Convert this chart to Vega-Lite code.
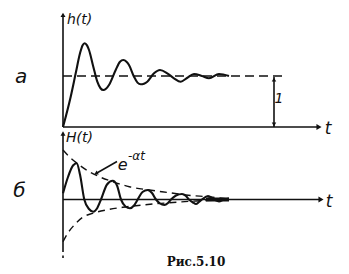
{
  "$schema": "https://vega.github.io/schema/vega-lite/v6.json",
  "padding": 0,
  "spacing": 0,
  "bounds": "flush",
  "background": "white",
  "config": {"view": {"stroke": null}},
  "resolve": {"scale": {"x": "independent", "y": "independent"}},
  "datasets": {
    "top_curve": [
      {"t": 0, "h": 0}, {"t": 0.77, "h": 0.594}, {"t": 1.27, "h": 1.053}, {"t": 1.7, "h": 1.445}, {"t": 1.95, "h": 1.6},
      {"t": 2.17, "h": 1.641}, {"t": 2.4, "h": 1.6}, {"t": 2.6, "h": 1.51}, {"t": 3.03, "h": 1.182}, {"t": 3.43, "h": 0.888},
      {"t": 3.75, "h": 0.76}, {"t": 4.03, "h": 0.725}, {"t": 4.3, "h": 0.75}, {"t": 4.6, "h": 0.824}, {"t": 5.27, "h": 1.118},
      {"t": 5.7, "h": 1.28}, {"t": 6.03, "h": 1.314}, {"t": 6.35, "h": 1.28}, {"t": 6.6, "h": 1.216}, {"t": 7.1, "h": 0.986},
      {"t": 7.45, "h": 0.87}, {"t": 7.77, "h": 0.837}, {"t": 8.1, "h": 0.85}, {"t": 8.43, "h": 0.888}, {"t": 9.1, "h": 1.053},
      {"t": 9.7, "h": 1.118}, {"t": 10.43, "h": 1.053}, {"t": 11.1, "h": 0.955}, {"t": 11.77, "h": 0.888}, {"t": 12.4, "h": 0.961},
      {"t": 13.1, "h": 1.039}, {"t": 13.9, "h": 1.0}, {"t": 14.6, "h": 0.955}, {"t": 15.6, "h": 1.039}, {"t": 16.6, "h": 1.0}
    ],
    "top_level": [{"t": 0, "h": 1}, {"t": 22.1, "h": 1}],
    "bot_curve": [
      {"t": 0, "h": 0.124}, {"t": 0.5, "h": 0.45}, {"t": 1.0, "h": 0.68}, {"t": 1.37, "h": 0.724}, {"t": 1.7, "h": 0.5},
      {"t": 2.13, "h": 0}, {"t": 2.6, "h": -0.19}, {"t": 3.03, "h": -0.244}, {"t": 3.4, "h": -0.18}, {"t": 3.8, "h": 0},
      {"t": 4.4, "h": 0.3}, {"t": 4.97, "h": 0.376}, {"t": 5.4, "h": 0.28}, {"t": 5.8, "h": 0}, {"t": 6.25, "h": -0.14},
      {"t": 6.7, "h": -0.176}, {"t": 7.1, "h": -0.12}, {"t": 7.47, "h": 0}, {"t": 7.95, "h": 0.15}, {"t": 8.47, "h": 0.19},
      {"t": 8.9, "h": 0.13}, {"t": 9.3, "h": 0}, {"t": 9.7, "h": -0.08}, {"t": 10.13, "h": -0.11}, {"t": 10.5, "h": -0.07},
      {"t": 10.8, "h": 0}, {"t": 11.3, "h": 0.08}, {"t": 11.9, "h": 0.11}, {"t": 12.3, "h": 0.07}, {"t": 12.6, "h": 0},
      {"t": 13.0, "h": -0.06}, {"t": 13.3, "h": -0.09}, {"t": 13.6, "h": -0.05}, {"t": 13.9, "h": 0}, {"t": 14.5, "h": 0.07},
      {"t": 15.1, "h": 0}, {"t": 15.6, "h": -0.04}, {"t": 16.1, "h": 0}, {"t": 16.6, "h": 0.02}
    ],
    "upper_env": [
      {"t": 0, "h": 0.99}, {"t": 0.63, "h": 0.856}, {"t": 1.63, "h": 0.69}, {"t": 2.63, "h": 0.556}, {"t": 3.63, "h": 0.456},
      {"t": 4.97, "h": 0.356}, {"t": 6.63, "h": 0.256}, {"t": 8.63, "h": 0.19}, {"t": 10.63, "h": 0.136}, {"t": 12.3, "h": 0.09},
      {"t": 14.8, "h": 0.05}, {"t": 16.6, "h": 0.01}
    ],
    "lower_env": [
      {"t": 0, "h": -0.844}, {"t": 0.47, "h": -0.676}, {"t": 1.13, "h": -0.51}, {"t": 1.97, "h": -0.356}, {"t": 2.97, "h": -0.276},
      {"t": 4.3, "h": -0.21}, {"t": 5.97, "h": -0.156}, {"t": 7.97, "h": -0.11}, {"t": 10.63, "h": -0.064}, {"t": 13.3, "h": -0.03},
      {"t": 16.3, "h": -0.01}
    ],
    "top_segs": [
      {"t1": 0, "v1": 0, "t2": 0, "v2": 2.2},
      {"t1": 0, "v1": 0, "t2": 25.4, "v2": 0},
      {"t1": 21.1, "v1": 0, "t2": 21.1, "v2": 0.98}
    ],
    "bot_segs": [
      {"t1": 0, "v1": -1.05, "t2": 0, "v2": 1.32},
      {"t1": 0, "v1": -1.12, "t2": 0, "v2": -1.17},
      {"t1": 0, "v1": 0, "t2": 25.6, "v2": 0},
      {"t1": 3.3, "v1": 0.52, "t2": 5.4, "v2": 0.76}
    ],
    "bot_blob": [{"t1": 14.3, "t2": 16.6, "v": 0}],
    "top_up": [{"t": 0, "v": 2.2}],
    "dim_up": [{"t": 21.1, "v": 0.93}],
    "dim_down": [{"t": 21.1, "v": 0.05}],
    "top_right": [{"t": 25.6, "v": 0}],
    "bot_up": [{"t": 0, "v": 1.32}],
    "bot_right": [{"t": 25.8, "v": 0}],
    "e_arrow": [{"t": 3.3, "v": 0.52}]
  },
  "vconcat": [
    {
      "width": 349,
      "height": 132,
      "layer": [
        {
          "data": {"name": "top_segs"},
          "mark": {"type": "rule", "color": "#111", "strokeWidth": 1.6},
          "encoding": {
            "x": {"field": "t1", "type": "quantitative", "scale": {"domain": [-6.3, 28.6], "nice": false, "zero": false}, "axis": null},
            "x2": {"field": "t2"},
            "y": {"field": "v1", "type": "quantitative", "scale": {"domain": [-0.098, 2.49], "nice": false, "zero": false}, "axis": null},
            "y2": {"field": "v2"}
          }
        },
        {
          "data": {"name": "top_level"},
          "mark": {"type": "line", "color": "#111", "strokeWidth": 1.5, "strokeDash": [9, 5]},
          "encoding": {"x": {"field": "t", "type": "quantitative"}, "y": {"field": "h", "type": "quantitative"}}
        },
        {
          "data": {"name": "top_curve"},
          "mark": {"type": "line", "color": "#111", "strokeWidth": 2.1, "interpolate": "monotone"},
          "encoding": {"x": {"field": "t", "type": "quantitative"}, "y": {"field": "h", "type": "quantitative"}}
        },
        {
          "data": {"name": "top_up"},
          "mark": {"type": "point", "shape": "triangle-up", "filled": true, "color": "#111", "size": 25, "opacity": 1},
          "encoding": {"x": {"field": "t", "type": "quantitative"}, "y": {"field": "v", "type": "quantitative"}}
        },
        {
          "data": {"name": "dim_up"},
          "mark": {"type": "point", "shape": "triangle-up", "filled": true, "color": "#111", "size": 20, "opacity": 1},
          "encoding": {"x": {"field": "t", "type": "quantitative"}, "y": {"field": "v", "type": "quantitative"}}
        },
        {
          "data": {"name": "dim_down"},
          "mark": {"type": "point", "shape": "triangle-down", "filled": true, "color": "#111", "size": 20, "opacity": 1},
          "encoding": {"x": {"field": "t", "type": "quantitative"}, "y": {"field": "v", "type": "quantitative"}}
        },
        {
          "data": {"name": "top_right"},
          "mark": {"type": "point", "shape": "triangle-right", "filled": true, "color": "#111", "size": 35, "opacity": 1},
          "encoding": {"x": {"field": "t", "type": "quantitative"}, "y": {"field": "v", "type": "quantitative"}}
        },
        {
          "data": {"values": [{"t": 0.4, "v": 2.1, "label": "h(t)"}]},
          "mark": {"type": "text", "font": "DejaVu Sans", "fontStyle": "italic", "fontSize": 14, "align": "left", "baseline": "middle", "color": "#111"},
          "encoding": {"x": {"field": "t", "type": "quantitative"}, "y": {"field": "v", "type": "quantitative"}, "text": {"field": "label"}}
        },
        {
          "data": {"values": [{"t": -4.2, "v": 0.99, "label": "а"}]},
          "mark": {"type": "text", "font": "DejaVu Sans", "fontStyle": "italic", "fontSize": 20, "align": "center", "baseline": "middle", "color": "#111"},
          "encoding": {"x": {"field": "t", "type": "quantitative"}, "y": {"field": "v", "type": "quantitative"}, "text": {"field": "label"}}
        },
        {
          "data": {"values": [{"t": 26.5, "v": -0.04, "label": "t"}]},
          "mark": {"type": "text", "font": "DejaVu Sans", "fontStyle": "italic", "fontSize": 17, "align": "center", "baseline": "middle", "color": "#111"},
          "encoding": {"x": {"field": "t", "type": "quantitative"}, "y": {"field": "v", "type": "quantitative"}, "text": {"field": "label"}}
        },
        {
          "data": {"values": [{"t": 21.6, "v": 0.55, "label": "1"}]},
          "mark": {"type": "text", "font": "DejaVu Sans", "fontStyle": "italic", "fontSize": 14, "align": "center", "baseline": "middle", "color": "#111"},
          "encoding": {"x": {"field": "t", "type": "quantitative"}, "y": {"field": "v", "type": "quantitative"}, "text": {"field": "label"}}
        }
      ]
    },
    {
      "width": 349,
      "height": 142,
      "layer": [
        {
          "data": {"name": "bot_segs"},
          "mark": {"type": "rule", "color": "#111", "strokeWidth": 1.6},
          "encoding": {
            "x": {"field": "t1", "type": "quantitative", "scale": {"domain": [-6.3, 28.6], "nice": false, "zero": false}, "axis": null},
            "x2": {"field": "t2"},
            "y": {"field": "v1", "type": "quantitative", "scale": {"domain": [-1.49, 1.35], "nice": false, "zero": false}, "axis": null},
            "y2": {"field": "v2"}
          }
        },
        {
          "data": {"name": "bot_blob"},
          "mark": {"type": "rule", "color": "#111", "strokeWidth": 4},
          "encoding": {"x": {"field": "t1", "type": "quantitative"}, "x2": {"field": "t2"}, "y": {"field": "v", "type": "quantitative"}}
        },
        {
          "data": {"name": "upper_env"},
          "mark": {"type": "line", "color": "#111", "strokeWidth": 1.4, "strokeDash": [7, 5], "interpolate": "monotone"},
          "encoding": {"x": {"field": "t", "type": "quantitative"}, "y": {"field": "h", "type": "quantitative"}}
        },
        {
          "data": {"name": "lower_env"},
          "mark": {"type": "line", "color": "#111", "strokeWidth": 1.4, "strokeDash": [7, 5], "interpolate": "monotone"},
          "encoding": {"x": {"field": "t", "type": "quantitative"}, "y": {"field": "h", "type": "quantitative"}}
        },
        {
          "data": {"name": "bot_curve"},
          "mark": {"type": "line", "color": "#111", "strokeWidth": 2.1, "interpolate": "monotone"},
          "encoding": {"x": {"field": "t", "type": "quantitative"}, "y": {"field": "h", "type": "quantitative"}}
        },
        {
          "data": {"name": "bot_up"},
          "mark": {"type": "point", "shape": "triangle-up", "filled": true, "color": "#111", "size": 25, "opacity": 1},
          "encoding": {"x": {"field": "t", "type": "quantitative"}, "y": {"field": "v", "type": "quantitative"}}
        },
        {
          "data": {"name": "bot_right"},
          "mark": {"type": "point", "shape": "triangle-right", "filled": true, "color": "#111", "size": 35, "opacity": 1},
          "encoding": {"x": {"field": "t", "type": "quantitative"}, "y": {"field": "v", "type": "quantitative"}}
        },
        {
          "data": {"name": "e_arrow"},
          "mark": {"type": "point", "shape": "triangle-right", "angle": 151, "filled": true, "color": "#111", "size": 20, "opacity": 1},
          "encoding": {"x": {"field": "t", "type": "quantitative"}, "y": {"field": "v", "type": "quantitative"}}
        },
        {
          "data": {"values": [{"t": 0.3, "v": 1.24, "label": "H(t)"}]},
          "mark": {"type": "text", "font": "DejaVu Sans", "fontStyle": "italic", "fontSize": 14, "align": "left", "baseline": "middle", "color": "#111"},
          "encoding": {"x": {"field": "t", "type": "quantitative"}, "y": {"field": "v", "type": "quantitative"}, "text": {"field": "label"}}
        },
        {
          "data": {"values": [{"t": -4.35, "v": 0.17, "label": "б"}]},
          "mark": {"type": "text", "font": "DejaVu Sans", "fontStyle": "italic", "fontSize": 20, "align": "center", "baseline": "middle", "color": "#111"},
          "encoding": {"x": {"field": "t", "type": "quantitative"}, "y": {"field": "v", "type": "quantitative"}, "text": {"field": "label"}}
        },
        {
          "data": {"values": [{"t": 26.6, "v": -0.04, "label": "t"}]},
          "mark": {"type": "text", "font": "DejaVu Sans", "fontStyle": "italic", "fontSize": 17, "align": "center", "baseline": "middle", "color": "#111"},
          "encoding": {"x": {"field": "t", "type": "quantitative"}, "y": {"field": "v", "type": "quantitative"}, "text": {"field": "label"}}
        },
        {
          "data": {"values": [{"t": 5.97, "v": 0.69, "label": "e"}]},
          "mark": {"type": "text", "font": "DejaVu Sans", "fontStyle": "italic", "fontSize": 16, "align": "center", "baseline": "middle", "color": "#111"},
          "encoding": {"x": {"field": "t", "type": "quantitative"}, "y": {"field": "v", "type": "quantitative"}, "text": {"field": "label"}}
        },
        {
          "data": {"values": [{"t": 6.5, "v": 0.876, "label": "-αt"}]},
          "mark": {"type": "text", "font": "DejaVu Sans", "fontStyle": "italic", "fontSize": 12, "align": "left", "baseline": "middle", "color": "#111"},
          "encoding": {"x": {"field": "t", "type": "quantitative"}, "y": {"field": "v", "type": "quantitative"}, "text": {"field": "label"}}
        },
        {
          "data": {"values": [{"t": 13.3, "v": -1.25, "label": "Рис.5.10"}]},
          "mark": {"type": "text", "font": "DejaVu Serif", "fontWeight": "bold", "fontSize": 12, "align": "center", "baseline": "middle", "color": "#111"},
          "encoding": {"x": {"field": "t", "type": "quantitative"}, "y": {"field": "v", "type": "quantitative"}, "text": {"field": "label"}}
        }
      ]
    }
  ]
}
